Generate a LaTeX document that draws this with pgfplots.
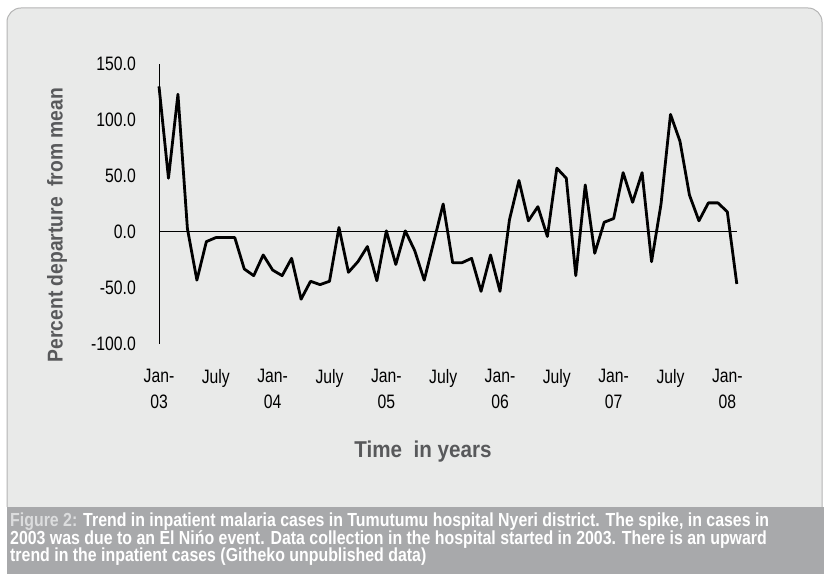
\documentclass[border=0pt]{standalone}
\usepackage{fontspec}
\setmainfont[FakeStretch=0.81]{Liberation Sans}
\newfontfamily\capfont[FakeStretch=0.84]{Liberation Sans}
\newfontfamily\titlefont[FakeStretch=0.9]{Liberation Sans}
\usepackage{pgfplots}
\pgfplotsset{compat=1.18}
\definecolor{panel}{HTML}{E9EAE9}
\definecolor{panelborder}{HTML}{B4B4B4}
\definecolor{band}{HTML}{A8A9AB}
\definecolor{titlegray}{HTML}{58595B}
\definecolor{figgray}{HTML}{DCDDDE}
\begin{document}
\begin{tikzpicture}[x=1bp,y=1bp]
\path[use as bounding box] (0,0) rectangle (829,574);
\fill[white] (0,0) rectangle (829,574);
\filldraw[fill=panel, draw=panelborder, line width=1bp, rounded corners=14bp] (7,67) -- (7,566) -- (822,566) -- (822,67);
\fill[band] (7,0) rectangle (824,67);
\begin{axis}[
  at={(159bp,230bp)}, anchor=south west, scale only axis,
  width=577.8bp, height=280bp,
  xmin=0, xmax=61, ymin=-100, ymax=150,
  axis y line*=left, axis x line*=bottom,
  x axis line style={draw=none},
  y axis line style={black, line width=1bp},
  xtick={0,6,...,60},
  xticklabels={{Jan-\\03},July,{Jan-\\04},July,{Jan-\\05},July,{Jan-\\06},July,{Jan-\\07},July,{Jan-\\08}},
  ytick={-100,-50,...,150},
  xtick style={draw=none}, ytick style={draw=none},
  xticklabel style={anchor=north, align=center, inner sep=0pt, yshift=-25bp, font=\fontsize{19.5}{26}\selectfont, text=black},
  yticklabel style={anchor=east, inner sep=0pt, xshift=-23bp, font=\fontsize{19.5}{22}\selectfont, text=black,
    /pgf/number format/.cd, fixed, fixed zerofill, precision=1, assume math mode=true},
  clip=false,
]
\draw[black, line width=1bp] (axis cs:0,0) -- (axis cs:61,0);
\addplot[black, line width=2.8bp, line join=round, mark=none] coordinates {
(0,130) (1,48) (2,123) (3,3) (4,-43) (5,-8.6) (6,-5) (7,-5) (8,-5) (9,-33)
(10,-39) (11,-20.5) (12,-34) (13,-39) (14,-23.5) (15,-60) (16,-44) (17,-47) (18,-44) (19,4)
(20,-36) (21,-26.5) (22,-13) (23,-43.5) (24,1) (25,-29) (26,1) (27,-16.7) (28,-43) (29,-9)
(30,25) (31,-27.4) (32,-27.4) (33,-23.5) (34,-53) (35,-20.5) (36,-53) (37,11) (38,46) (39,10)
(40,22.6) (41,-4) (42,57) (43,48) (44,-39) (45,42) (46,-19) (47,8.7) (48,12) (49,53)
(50,26.5) (51,53) (52,-26.5) (53,25) (54,105) (55,81) (56,33) (57,10) (58,26) (59,26)
(60,18) (61,-46.4)
};
\end{axis}
\node[rotate=90, inner sep=0pt, font=\titlefont\bfseries\fontsize{21.5}{24}\selectfont, text=titlegray] at (57,349) {Percent departure\ \ from mean};
\node[inner sep=0pt, font=\titlefont\bfseries\fontsize{23}{26}\selectfont, text=titlegray] at (423,122) {Time\ \ in years};
\node[anchor=base west, inner sep=0pt, align=left, font=\capfont\bfseries\fontsize{19}{18}\selectfont, text=white] at (10,12)
 {\textcolor{figgray}{Figure 2:} Trend in inpatient malaria cases in Tumutumu hospital Nyeri district. The spike, in cases in\\
  2003 was due to an El Nińo event. Data collection in the hospital started in 2003. There is an upward\\
  trend in the inpatient cases (Githeko unpublished data)};
\end{tikzpicture}
\end{document}
